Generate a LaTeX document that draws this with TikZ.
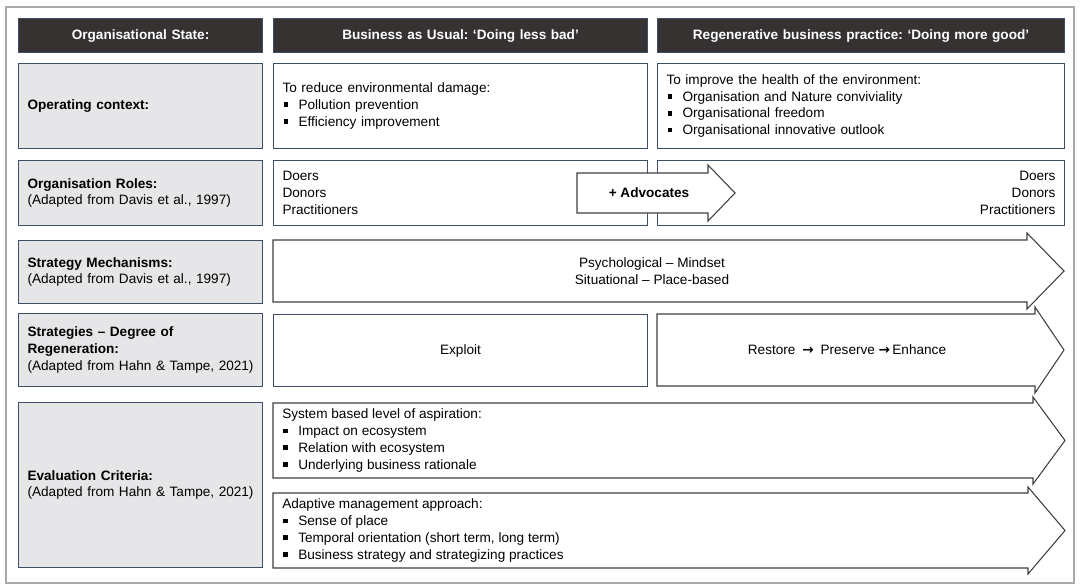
\documentclass[tikz,border=0pt]{standalone}
\usepackage{fontspec}
\setmainfont{Liberation Sans}
\newfontfamily\arrowfont{DejaVu Sans}
\frenchspacing
\usetikzlibrary{positioning}
\definecolor{hdrgray}{RGB}{54,50,50}
\definecolor{cellgray}{RGB}{230,229,231}
\definecolor{edgeblue}{RGB}{62,78,104}
\definecolor{arrowgray}{RGB}{64,64,64}
\definecolor{framegray}{RGB}{170,170,170}
\newcommand{\sq}{\makebox[12pt][l]{\hspace{0.8pt}\rule[1.7pt]{3.6pt}{3.6pt}}}
\newcommand{\ra}{{\arrowfont\bfseries →}}
\newcommand{\arrowbox}[6]{\draw[arrowline] (#1,#2) -- (#3,#2) -- (#3,#2-#6) -- (#5,{(#2+#4)/2}) -- (#3,#4+#6) -- (#3,#4) -- (#1,#4) -- cycle;}
\begin{document}
\begin{tikzpicture}[x=0.75pt, y=-0.75pt, every node/.style={font=\fontsize{10.2}{12.6}\selectfont},
  wh/.style 2 args={minimum width=#1*0.75pt, minimum height=#2*0.75pt, text width=(#1-18)*0.75pt},
  hdr/.style={draw=edgeblue, line width=0.8pt, fill=hdrgray, text=white, font=\fontsize{10.2}{12.6}\selectfont\bfseries, anchor=north west, inner xsep=6.75pt, inner ysep=0pt, align=center},
  cell/.style={draw=edgeblue, line width=0.8pt, fill=white, anchor=north west, inner xsep=6.75pt, inner ysep=0pt, align=left},
  lab/.style={cell, fill=cellgray},
  arrowline/.style={draw=arrowgray, line width=0.8pt, fill=white, line join=miter}]
\useasboundingbox (0,0) rectangle (1084,588);
\draw[framegray, line width=1.5pt, fill=white] (6,7) rectangle (1074,583);
% header row
\node[hdr, wh={244}{34}] (hState) at (18,18) {Organisational State:};
\node[hdr, wh={374}{34}] (hBau) at (273,18) {Business as Usual: ‘Doing less bad’};
\node[hdr, wh={407}{34}] (hRegen) at (657,18) {Regenerative business practice: ‘Doing more good’};
% operating context
\node[lab, wh={244}{85}] (ctxL) at (18,63) {\textbf{Operating context:}};
\node[cell, wh={374}{85}] (ctxBau) at (273,63) {To reduce environmental damage:\\\sq Pollution prevention\\\sq Efficiency improvement};
\node[cell, wh={407}{85}] (ctxRegen) at (657,63) {To improve the health of the environment:\\\sq Organisation and Nature conviviality\\\sq Organisational freedom\\\sq Organisational innovative outlook};
% roles
\node[lab, wh={244}{65}] (rolesL) at (18,160) {\textbf{Organisation Roles:}\\(Adapted from Davis et al., 1997)};
\node[cell, wh={374}{65}] (rolesBau) at (273,160) {Doers\\Donors\\Practitioners};
\node[cell, wh={407}{65}, align=right] (rolesRegen) at (657,160) {Doers\\Donors\\Practitioners};
\arrowbox{577}{173}{708}{213}{735}{8}
\node[font=\fontsize{10.2}{12.6}\selectfont\bfseries] (advTxt) at (649,193) {+ Advocates};
% mechanisms
\node[lab, wh={244}{63}] (mechL) at (18,240) {\textbf{Strategy Mechanisms:}\\(Adapted from Davis et al., 1997)};
\arrowbox{273}{240}{1027}{302}{1064}{7}
\node[align=center] (mechTxt) at (652,271) {Psychological – Mindset\\Situational – Place-based};
% degree of regeneration
\node[lab, wh={244}{73}] (regenL) at (18,313) {\textbf{Strategies – Degree of}\\\textbf{Regeneration:}\\\mbox{(Adapted from Hahn \& Tampe, 2021)}};
\node[cell, wh={374}{72}, align=center] (exploit) at (273,314) {Exploit};
\arrowbox{657}{314}{1035}{386}{1064}{7}
\node (regenTxt) at (847,350) {Restore\enspace\ra\enspace Preserve\ \ra\,Enhance};
% evaluation
\node[lab, wh={244}{165}] (evalL) at (18,402) {\textbf{Evaluation Criteria:}\\\mbox{(Adapted from Hahn \& Tampe, 2021)}};
\arrowbox{273}{403}{1033}{478}{1065}{6}
\node[anchor=west, inner sep=0pt, align=left] (aspTxt) at (282,440.5) {System based level of aspiration:\\\sq Impact on ecosystem\\\sq Relation with ecosystem\\\sq Underlying business rationale};
\arrowbox{273}{493}{1028}{568}{1065}{6}
\node[anchor=west, inner sep=0pt, align=left] (adaptTxt) at (282,530.5) {Adaptive management approach:\\\sq Sense of place\\\sq Temporal orientation (short term, long term)\\\sq Business strategy and strategizing practices};
\end{tikzpicture}
\end{document}
